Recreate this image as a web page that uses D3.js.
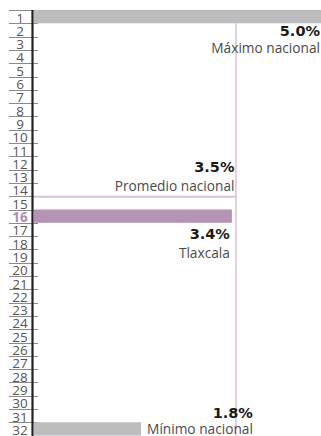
<!DOCTYPE html>
<html>
<head>
<meta charset="utf-8">
<script src="https://cdn.jsdelivr.net/npm/d3@7"></script>
<style>
  html, body { margin: 0; padding: 0; background: #fff; overflow: hidden; }
  svg { display: block; }
</style>
</head>
<body>
<svg id="chart" width="321" height="436"></svg>
<script>
// ---- data ----
const ranks = [1,2,3,4,5,6,7,8,9,10,11,12,13,14,15,16,17,18,19,20,21,22,23,24,25,26,27,28,29,30,31,32];
const barRanks = [1, 16, 32];
const barValues = [5.0, 3.40, 1.84];
const barNames = ["Máximo nacional", "Tlaxcala", "Mínimo nacional"];
const barKinds = ["max", "state", "min"];
const promedioValue = 3.47;
const promedioRank = 15;
const promedioName = "Promedio nacional";
const highlightRank = 16;

// ---- setup ----
const W = 321, H = 436;
const svg = d3.select("#chart");
const y = d3.scaleBand().domain(ranks).range([10, 10 + 32 * 13.3]).padding(0);
const x = d3.scaleLinear().domain([0, 5]).range([34, 325]);
const fmt = v => d3.format(".1f")(v) + "%";

const colors = { max: "#bdbdc0", min: "#bdbdc0", state: "#b493b4" };
const lineColor = "#d9c2da";

// row tick lines (under each number) + top line
const yLines = [y(1)].concat(ranks.map(r => y(r) + y.bandwidth()));
svg.append("g").selectAll("line").data(yLines).join("line")
  .attr("x1", 9).attr("x2", 38)
  .attr("y1", d => Math.round(d) + 0.5).attr("y2", d => Math.round(d) + 0.5)
  .attr("stroke", "#8a8a8a").attr("stroke-width", 1);

// rank numbers
svg.append("g").selectAll("text").data(ranks).join("text")
  .attr("x", 20)
  .attr("y", d => y(d) + y.bandwidth() - 0.8)
  .attr("text-anchor", "middle")
  .attr("font-family", "'Liberation Sans Narrow', 'Open Sans', sans-serif")
  .attr("font-size", 13.5)
  .attr("font-weight", d => d === highlightRank ? 700 : 400)
  .attr("fill", d => d === highlightRank ? "#b08db1" : "#555")
  .text(d => d);

// bars
const bars = barRanks.map((r, i) => ({ rank: r, value: barValues[i], name: barNames[i], kind: barKinds[i] }));
svg.append("g").selectAll("rect").data(bars).join("rect")
  .attr("x", x(0))
  .attr("y", d => y(d.rank))
  .attr("width", d => x(d.value) - x(0))
  .attr("height", y.bandwidth())
  .attr("fill", d => colors[d.kind]);

// promedio lines
const px = x(promedioValue);
const py = y(promedioRank);
svg.append("line")
  .attr("x1", px).attr("x2", px)
  .attr("y1", y(1) + y.bandwidth()).attr("y2", H)
  .attr("stroke", lineColor).attr("stroke-width", 1.5);
svg.append("line")
  .attr("x1", x(0)).attr("x2", px + 0.75)
  .attr("y1", py + 0.5).attr("y2", py + 0.5)
  .attr("stroke", lineColor).attr("stroke-width", 2);

// axis line
svg.append("line")
  .attr("x1", 32.5).attr("x2", 32.5)
  .attr("y1", y(1)).attr("y2", H)
  .attr("stroke", "#222").attr("stroke-width", 2.2);

// labels
const valFont = "'DejaVu Sans', sans-serif";
const nameFont = "'Open Sans', sans-serif";
function label(xPos, yVal, yName, value, name, anchor) {
  const g = svg.append("g");
  g.append("text").attr("x", xPos).attr("y", yVal)
    .attr("text-anchor", anchor)
    .attr("font-family", valFont).attr("font-weight", 700).attr("font-size", 14.5)
    .attr("fill", "#1a1a1a").text(value);
  g.append("text").attr("x", xPos).attr("y", yName)
    .attr("text-anchor", anchor)
    .attr("font-family", nameFont).attr("font-size", 13.7)
    .attr("fill", "#4a4a4a").text(name);
  return g;
}
const bMax = bars[0], bState = bars[1], bMin = bars[2];
// máximo
label(W - 1, y(bMax.rank) + y.bandwidth() + 13, y(bMax.rank) + y.bandwidth() + 30, fmt(bMax.value), bMax.name, "end");
// promedio
label(px - 1.5, py - 24, py - 5, fmt(promedioValue), promedioName, "end");
// tlaxcala
label(x(bState.value) - 2, y(bState.rank) + y.bandwidth() + 16, y(bState.rank) + y.bandwidth() + 35, fmt(bState.value), bState.name, "end");
// mínimo: name starts right of the bar, value aligned to the name's end
const minG = svg.append("g");
const minName = minG.append("text")
  .attr("x", x(bMin.value) + 6).attr("y", y(bMin.rank) + 12)
  .attr("font-family", nameFont).attr("font-size", 13.7)
  .attr("fill", "#4a4a4a").text(bMin.name);
const nameEnd = x(bMin.value) + 6 + minName.node().getComputedTextLength();
minG.append("text")
  .attr("x", nameEnd).attr("y", y(bMin.rank) - 4)
  .attr("text-anchor", "end")
  .attr("font-family", valFont).attr("font-weight", 700).attr("font-size", 14.5)
  .attr("fill", "#1a1a1a").text(fmt(bMin.value));
</script>
</body>
</html>
